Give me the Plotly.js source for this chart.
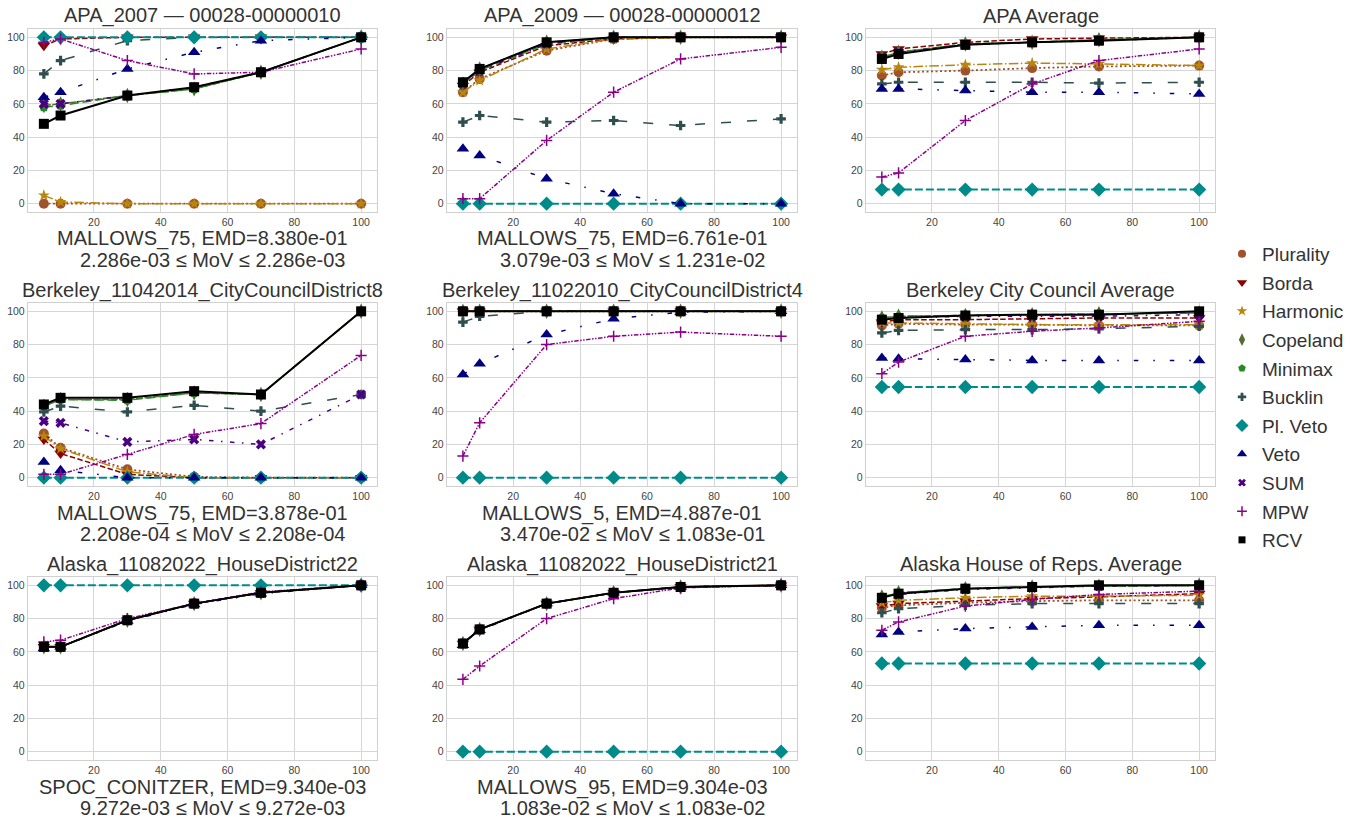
<!DOCTYPE html>
<html>
<head>
<meta charset="utf-8">
<script src="https://cdn.plot.ly/plotly-3.0.1.min.js"></script>
<style>html,body{margin:0;padding:0;background:#fff;}#chart{width:1364px;height:821px;}</style>
</head>
<body>
<div id="chart"></div>
<script>
// x values (percent)
const xVals = [5, 10, 30, 50, 70, 100];
const methods = ["Plurality", "Borda", "Harmonic", "Copeland", "Minimax", "Bucklin", "Pl. Veto", "Veto", "SUM", "MPW", "RCV"];

// Each panel: rows in the order of `methods`
const APA_2007 = [
  [0, 0, 0, 0, 0, 0],
  [95, 99, 100, 100, 100, 100],
  [5, 1, 0, 0, 0, 0],
  [59, 60, 65, 69, 79, 100],
  [58, 59, 65, 69, 79, 100],
  [78, 86, 98, 100, 100, 100],
  [100, 100, 100, 100, 100, 100],
  [64, 67, 81, 91, 98, 100],
  [60, 60, 65, 70, 79, 100],
  [97, 99, 86, 78, 79, 93],
  [48, 53, 65, 70, 79, 100]
];
const APA_2009 = [
  [67, 75, 92, 99, 100, 100],
  [71, 79, 95, 99, 100, 100],
  [67, 74, 93, 99, 100, 100],
  [72, 81, 97, 100, 100, 100],
  [72, 80, 96, 100, 100, 100],
  [49, 53, 49, 50, 47, 51],
  [0, 0, 0, 0, 0, 0],
  [33, 29, 15, 6, 0, 0],
  [72, 80, 96, 100, 100, 100],
  [3, 3, 38, 67, 87, 94],
  [73, 81, 97, 100, 100, 100]
];
const APA_Average = [
  [77, 79, 80, 81.5, 82.5, 83],
  [90, 93, 97, 99, 99.5, 100],
  [80.5, 82, 83.5, 84.5, 84, 83],
  [88, 91, 96, 97, 98.5, 100],
  [88, 91, 96, 97, 98.5, 100],
  [72, 73, 73, 73, 72.5, 73],
  [8.5, 8.5, 8.5, 8.5, 8.5, 8.5],
  [69, 69, 68, 67, 67, 66],
  [88, 91, 95.5, 97, 98, 100],
  [16, 18.5, 50, 72, 86, 93],
  [87, 90, 95.5, 97, 98, 100]
];
const Berkeley_D8 = [
  [26.5, 18, 5, 0.5, 0, 0],
  [23, 14.5, 2, 0, 0, 0],
  [25, 17.5, 3.5, 0, 0, 0],
  [43, 47, 47, 51, 50, 100],
  [43, 47, 46.5, 51, 50, 100],
  [39.5, 43, 39.5, 43.5, 40, 50],
  [0, 0, 0, 0, 0, 0],
  [9.5, 4.5, 0, 0, 0, 0],
  [34, 33, 21.5, 23, 20, 50],
  [2, 2, 14, 26, 32.5, 73.5],
  [44, 48, 48, 52, 50, 100]
];
const Berkeley_D4 = [
  [100, 100, 100, 100, 100, 100],
  [100, 100, 100, 100, 100, 100],
  [100, 100, 100, 100, 100, 100],
  [100, 100, 100, 100, 100, 100],
  [100, 100, 100, 100, 100, 100],
  [93.5, 97, 100, 100, 100, 100],
  [0, 0, 0, 0, 0, 0],
  [62, 68.5, 86, 95.5, 99.5, 100],
  [100, 100, 100, 100, 100, 100],
  [13, 33, 80, 85, 87.5, 85],
  [100, 100, 100, 100, 100, 100]
];
const Berkeley_Average = [
  [91.5, 92.5, 92, 92, 91.5, 91.5],
  [93.5, 95, 95, 95.5, 96, 96],
  [93, 93, 92.5, 92, 92, 92],
  [96, 97, 97.5, 98, 98.5, 99],
  [96, 97, 97.5, 98, 98.5, 99],
  [87, 88.5, 89, 89, 89.5, 91],
  [54.5, 54.5, 54.5, 54.5, 54.5, 54.5],
  [72, 71.5, 71, 70.5, 70.5, 70.5],
  [95, 96, 97, 97, 97, 98],
  [62.5, 69.5, 85, 88, 90, 94],
  [95, 96, 97.5, 98, 98, 100]
];
const Alaska_HD22 = [
  [63, 63, 79, 89, 95.5, 100],
  [63, 63, 79, 89, 95.5, 100],
  [63, 63, 79, 89, 95.5, 100],
  [63, 63, 79, 89, 95.5, 100],
  [63, 63, 79, 89, 95.5, 100],
  [63, 63, 79, 89, 95.5, 100],
  [100, 100, 100, 100, 100, 100],
  [62, 63, 78.5, 88.5, 95, 100],
  [63, 63, 79, 89, 95.5, 100],
  [66, 67, 80, 89, 96, 100],
  [63, 63, 79, 89, 95.5, 100]
];
const Alaska_HD21 = [
  [65, 73.5, 89, 95.5, 99, 100],
  [65, 73.5, 89, 95.5, 99, 100],
  [65, 73.5, 89, 95.5, 99, 100],
  [65, 73.5, 89, 95.5, 99, 100],
  [65, 73.5, 89, 95.5, 99, 100],
  [65, 73.5, 89, 95.5, 99, 100],
  [0, 0, 0, 0, 0, 0],
  [64, 73, 89, 95.5, 99, 100],
  [65, 73.5, 89, 95.5, 99, 100],
  [43.5, 51.5, 80, 92, 98.5, 100],
  [65, 73.5, 89, 95.5, 99, 100]
];
const Alaska_Average = [
  [86.5, 88, 89.5, 90.5, 91, 91],
  [87.5, 89, 90.5, 92, 93, 95],
  [89.5, 91, 92.5, 93.5, 93.5, 94],
  [93, 95.5, 98, 99, 99.5, 100],
  [93, 95.5, 98, 99, 99.5, 100],
  [83.5, 86, 88, 89, 89, 89],
  [53, 53, 53, 53, 53, 53],
  [70.5, 72, 74, 75, 76, 76],
  [92, 94.5, 97.5, 98.5, 99.5, 100],
  [73, 78, 87.5, 91.5, 94.5, 96.5],
  [92.5, 95, 98, 99, 100, 100]
];

const panelData = [APA_2007, APA_2009, APA_Average, Berkeley_D8, Berkeley_D4, Berkeley_Average, Alaska_HD22, Alaska_HD21, Alaska_Average];
const panelTitles = [
  "APA_2007 — 00028-00000010", "APA_2009 — 00028-00000012", "APA Average",
  "Berkeley_11042014_CityCouncilDistrict8", "Berkeley_11022010_CityCouncilDistrict4", "Berkeley City Council Average",
  "Alaska_11082022_HouseDistrict22", "Alaska_11082022_HouseDistrict21", "Alaska House of Reps. Average"
];
const labelLine1 = [
  "MALLOWS_75, EMD=8.380e-01", "MALLOWS_75, EMD=6.761e-01", "",
  "MALLOWS_75, EMD=3.878e-01", "MALLOWS_5, EMD=4.887e-01", "",
  "SPOC_CONITZER, EMD=9.340e-03", "MALLOWS_95, EMD=9.304e-03", ""
];
const labelLine2 = [
  "2.286e-03 ≤ MoV ≤ 2.286e-03", "3.079e-03 ≤ MoV ≤ 1.231e-02", "",
  "2.208e-04 ≤ MoV ≤ 2.208e-04", "3.470e-02 ≤ MoV ≤ 1.083e-01", "",
  "9.272e-03 ≤ MoV ≤ 9.272e-03", "1.083e-02 ≤ MoV ≤ 1.083e-02", ""
];
const xTicks = [20, 40, 60, 80, 100];
const yTicks = [0, 20, 40, 60, 80, 100];

// styles
const styles = [
  {color: "#a0522d", symbol: "circle", size: 10, dash: "2px,2.5px", width: 1.8, lsize: 8},
  {color: "#8b0000", symbol: "triangle-down", size: 11, dash: "5.5px,2.4px", width: 1.5, lsize: 9},
  {color: "#b8860b", symbol: "star", size: 9, dash: "9.6px,2.4px,1.5px,2.4px", width: 1.5, lsize: 8},
  {color: "#556b2f", symbol: "diamond-tall", size: 11, dash: "7px,1.5px", width: 1.5, lsize: 9},
  {color: "#228b22", symbol: "pentagon", size: 10, dash: "9px,4px", width: 1.5, lsize: 8},
  {color: "#2f4f4f", symbol: "cross", size: 8, dash: "10px,16px", width: 1.5, lsize: 7},
  {color: "#008b8b", symbol: "diamond", size: 11, dash: "8px,3px", width: 2, lsize: 10},
  {color: "#000080", symbol: "triangle-up", size: 11, dash: "4.5px,15px,1.5px,15px", width: 1.5, lsize: 9},
  {color: "#4b0082", symbol: "x", size: 9, dash: "4.5px,7.5px,1.5px,7.5px", width: 1.5, lsize: 7},
  {color: "#8b008b", symbol: "cross-thin-open", size: 8, dash: "4.5px,1.5px,1.5px,1.5px,1.5px,1.5px", width: 1.5, lsize: 7},
  {color: "#000000", symbol: "square", size: 10, dash: "solid", width: 2, lsize: 7}
];

const W = 1364, H = 821;
const colPx = [[28, 377], [447, 797], [866, 1215]];
const rowPx = [[29, 212], [303, 486], [577, 760]];

const traces = [];
const layout = {
  width: W, height: H,
  margin: {l: 0, r: 0, t: 0, b: 0},
  paper_bgcolor: "#ffffff", plot_bgcolor: "#ffffff",
  font: {family: "Liberation Sans, Arial, sans-serif", color: "#333333"},
  showlegend: true,
  hovermode: false,
  legend: {
    x: 1222 / W, xanchor: "left", y: 1 - 235 / H, yanchor: "top",
    font: {size: 19, color: "#333333"},
    bgcolor: "rgba(0,0,0,0)", tracegroupgap: 0.9
  },
  annotations: []
};

for (let p = 0; p < 9; p++) {
  const r = Math.floor(p / 3), c = p % 3;
  const idx = p + 1;
  const xa = "xaxis" + (idx === 1 ? "" : idx), ya = "yaxis" + (idx === 1 ? "" : idx);
  const xref = "x" + (idx === 1 ? "" : idx), yref = "y" + (idx === 1 ? "" : idx);
  const xd = [colPx[c][0] / W, colPx[c][1] / W];
  const yd = [1 - rowPx[r][1] / H, 1 - rowPx[r][0] / H];
  layout[xa] = {
    domain: xd, anchor: yref, range: [0.25, 104.75],
    tickvals: xTicks, ticks: "", showgrid: true, gridcolor: "#d6d6d6", gridwidth: 1,
    zeroline: false, showline: true, linecolor: "#d0d0d0", linewidth: 1.2, mirror: true,
    tickfont: {size: 10.5, color: "#444444"}, fixedrange: true
  };
  layout[ya] = {
    domain: yd, anchor: xref, range: [-5, 105],
    tickvals: yTicks, ticks: "", showgrid: true, gridcolor: "#d6d6d6", gridwidth: 1,
    zeroline: false, showline: true, linecolor: "#d0d0d0", linewidth: 1.2, mirror: true,
    tickfont: {size: 10.5, color: "#444444"}, fixedrange: true
  };
  const xc = (xd[0] + xd[1]) / 2;
  layout.annotations.push({
    text: panelTitles[p], xref: "paper", yref: "paper", x: xc, y: yd[1],
    xanchor: "center", yanchor: "middle", yshift: 13, showarrow: false,
    font: {size: 20, color: "#333333"}
  });
  if (labelLine1[p]) {
    layout.annotations.push({
      text: labelLine1[p], xref: "paper", yref: "paper", x: xc, y: yd[0],
      xanchor: "center", yanchor: "middle", yshift: -27, showarrow: false,
      font: {size: 20, color: "#333333"}
    });
    layout.annotations.push({
      text: labelLine2[p], xref: "paper", yref: "paper", x: xc, y: yd[0],
      xanchor: "center", yanchor: "middle", yshift: -48, xshift: 10, showarrow: false,
      font: {size: 20, color: "#333333"}
    });
  }
  const data = panelData[p];
  for (let m = 0; m < methods.length; m++) {
    const s = styles[m];
    const marker = {symbol: s.symbol, size: s.size, color: s.color};
    if (s.symbol === "cross-thin-open") marker.line = {color: s.color, width: 1.5};
    traces.push({
      type: "scatter", mode: "lines+markers", x: xVals, y: data[m],
      xaxis: xref, yaxis: yref, name: methods[m], showlegend: false,
      line: {color: s.color, width: s.width, dash: s.dash},
      marker: marker
    });
  }
}
// legend-only entries
for (let m = 0; m < methods.length; m++) {
  const s = styles[m];
  const marker = {symbol: s.symbol, size: s.lsize, color: s.color};
  if (s.symbol === "cross-thin-open") marker.line = {color: s.color, width: 1.5};
  traces.push({
    type: "scatter", mode: "markers", x: [null], y: [null], xaxis: "x", yaxis: "y",
    name: methods[m], legendgroup: "g" + m, showlegend: true, marker: marker
  });
}

Plotly.newPlot("chart", traces, layout, {displayModeBar: false, staticPlot: true});
</script>
</body>
</html>
